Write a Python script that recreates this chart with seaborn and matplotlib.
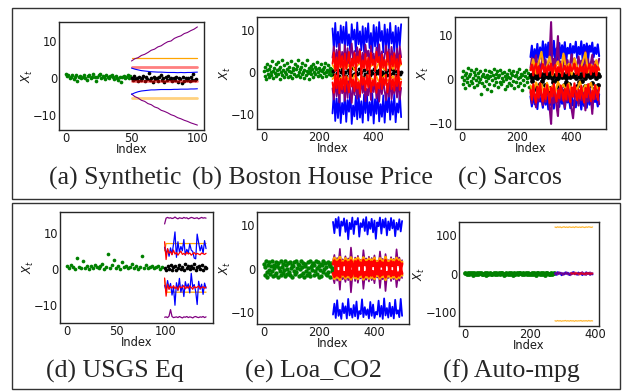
import numpy as np
import matplotlib
matplotlib.use("Agg")
import matplotlib.pyplot as plt
from matplotlib.patches import Rectangle
import seaborn as sns

# ---------------- (a) Synthetic ----------------
green_a = [1.2, 0.6, 0.9, 0.2, 0.5, 0.8, -0.1, 0.4, 0.9, -0.6, 0.3, 0.7, 0.1, 0.5, 1.0, 0.2, -0.3, 0.6, 0.8, 0.0,
           0.4, 1.1, 0.3, -0.8, 0.5, 0.9, 1.3, 0.2, 0.6, 0.4, -0.2, 0.8, 0.5, 0.1, 0.7, 1.0, 0.3, -0.1, 0.6, 0.2,
           -0.4, 0.5, -0.9, 0.3, 0.7, 0.1, 0.4, 0.8, 0.2, 0.6]
black_a = [0.2, -0.5, 0.6, -0.2, 0.1, -0.8, 0.4, -0.3, 0.0, 0.7, -0.6, 0.3, -0.1, 1.5, -0.4, 0.2, -0.9, 0.5, -0.2, 0.1,
           -0.7, 0.4, 0.9, -0.3, 0.0, -1.0, 0.3, -0.5, 0.6, -0.1, 0.2, -0.6, 0.0, -0.4, 0.5, -0.9, 0.1, -0.2, -1.3, 0.4,
           -0.6, 0.0, -0.3, 0.2, -0.8, 0.3, -0.4, 1.2, -0.5, -0.1]
purple_up_a = [4.7, 5.3, 5.6, 6.2, 6.5, 7.0, 7.6, 7.9, 8.5, 8.8, 9.4, 9.9, 10.1, 10.8, 11.2, 11.5, 12.1, 12.4, 12.9, 13.3, 13.9]
purple_lo_a = [-4.2, -4.9, -5.3, -5.9, -6.2, -6.8, -7.1, -7.7, -8.0, -8.6, -8.9, -9.3, -9.8, -10.1, -10.6, -10.9, -11.3,
               -11.6, -12.0, -12.3, -12.6]
blue_up_a = [2.8, 2.5, 2.3, 2.1, 2.0, 1.9, 1.8, 1.75, 1.7, 1.7, 1.65, 1.6, 1.6, 1.6, 1.55, 1.6, 1.55, 1.6, 1.6, 1.65, 1.7]
blue_lo_a = [-4.3, -3.9, -3.6, -3.4, -3.3, -3.2, -3.1, -3.1, -3.05, -3.0, -3.0, -3.0, -3.0, -2.95, -2.95, -2.9, -2.9,
             -2.9, -2.85, -2.85, -2.8]
orange_up_a = [5.5, 5.5]
orange_lo_a = [-5.4, -5.4]
red_up_a = [3.2, 3.2]
red_lo_a = [-0.6, -0.6]
span_a = [50, 100]

# ---------------- (b) Boston House Price ----------------
green_b = [0.3, -0.8, 1.2, -1.5, 0.6, 2.1, -0.4, 0.9, -1.1, 1.6, 0.1, -0.6, 2.8, 0.4, -1.3, 1.0, -0.2, 1.9, -0.9, 0.5,
           2.4, -0.3, 0.8, -1.6, 1.3, 0.0, 2.9, -0.7, 0.6, -1.2, 1.7, 0.2, -0.5, 2.2, 0.9, -1.0, 0.3, 1.4, -0.8, 2.6,
           0.1, -1.4, 1.1, 0.5, -0.3, 2.0, -0.9, 0.7, 1.5, -0.6, 2.9, 0.2, -1.1, 0.8, 1.2, -0.4, 2.3, 0.0, -1.3, 0.6,
           1.8, -0.7, 0.4, 2.9, -0.2, 1.0, -1.5, 0.3, 1.6, -0.5, 0.9, 2.1, -1.0, 0.2, 1.3, -0.3, 0.7, 2.5, -0.8, 0.1,
           1.1, -0.6, 0.5, 1.9, -1.2, 0.4, 0.8, -0.2, 1.4, 2.2, -0.9, 0.0, 0.6, 1.7, -0.4, 0.3, 1.0, -0.7, 0.9, 0.2]
blue_up_b = [10.5, 5.2, 11.8, 6.1, 9.7, 4.8, 11.2, 7.0, 10.9, 5.5, 12.0, 6.4, 9.1, 4.6, 11.5, 7.8, 10.2, 5.0, 11.9, 6.7,
             9.8, 5.3, 11.0, 4.9, 10.6, 7.2, 11.7, 5.8, 9.4, 4.7, 11.3, 6.2, 10.8, 5.1, 12.0, 7.5, 9.9, 4.8, 11.4, 6.0,
             10.3, 5.4, 11.8, 6.9, 9.6, 4.9, 11.1, 5.7, 10.7, 6.3, 11.5]
blue_lo_b = [-9.8, -4.5, -11.6, -6.2, -10.9, -4.9, -12.1, -7.3, -10.0, -5.1, -11.8, -6.6, -9.4, -4.3, -12.3, -7.9, -10.5,
             -5.6, -11.2, -4.8, -10.8, -6.9, -12.0, -5.3, -9.7, -4.6, -11.5, -7.1, -10.3, -5.0, -12.2, -6.4, -9.9, -4.4,
             -11.7, -7.6, -10.6, -5.5, -12.0, -6.1, -9.5, -4.7, -11.3, -6.8, -10.1, -5.2, -11.9, -7.4, -9.6, -4.9, -10.7]
purple_up_b = [3.5, 6.2, 1.8, 5.4, 2.6, 6.8, 1.2, 4.9, 3.0, 6.5, 2.1, 5.8, 1.5, 4.3, 6.9, 2.8, 5.1, 1.7, 6.0, 3.3, 5.6,
               1.4, 4.7, 2.4, 6.6, 3.8, 5.2, 1.9, 6.3, 2.7, 4.5, 1.3, 5.9, 3.1, 6.7, 2.2, 5.0, 1.6, 4.1, 6.4, 2.5, 5.5,
               1.8, 6.1, 3.4, 4.8, 2.0, 5.7, 1.5, 6.2, 3.6]
purple_lo_b = [-3.8, -6.5, -1.6, -5.7, -2.9, -7.2, -1.3, -5.0, -3.3, -6.8, -2.0, -6.1, -1.4, -4.6, -7.3, -2.6, -5.4, -1.9,
               -6.3, -3.5, -5.9, -1.2, -4.9, -2.3, -6.9, -3.9, -5.5, -1.7, -6.6, -2.8, -4.7, -1.5, -6.2, -3.2, -7.0, -2.4,
               -5.2, -1.8, -4.4, -6.7, -2.7, -5.8, -1.6, -6.4, -3.6, -5.1, -2.1, -6.0, -1.4, -6.5, -3.7]
orange_up_b = [1.8, 0.6, 2.3, 1.1, 2.6, 0.8, 1.9, 2.4, 0.5, 1.6, 2.2, 1.0, 2.7, 0.7, 1.5, 2.0, 0.9, 2.5, 1.3, 0.6, 2.1,
               1.7, 0.8, 2.4, 1.2, 1.9]
orange_lo_b = [-1.6, -0.7, -2.1, -1.2, -2.5, -0.9, -1.8, -2.2, -0.6, -1.4, -2.3, -1.1, -2.6, -0.8, -1.3, -1.9, -1.0,
               -2.4, -1.5, -0.7, -2.0, -1.6, -0.9, -2.2, -1.1, -1.7]
red_up_b = [2.1, 4.8, 0.3, 3.6, -0.5, 5.0, 1.2, 3.9, -0.2, 4.5, 0.8, 2.7, 4.9, -0.4, 3.3, 1.5, 4.6, 0.1, 3.8, 2.2, 5.1,
            -0.3, 2.9, 1.0, 4.4, 0.5, 3.5, -0.1, 4.7, 1.8, 3.1, 0.2, 4.9, 2.4, 3.7, -0.6, 4.2, 1.1, 3.0, 0.4, 4.8, 2.6,
            -0.2, 3.9, 1.4, 4.5, 0.6, 3.2, -0.3, 4.1, 2.0]
red_lo_b = [-2.4, -4.9, -0.4, -3.8, 0.3, -5.0, -1.5, -4.1, 0.1, -4.6, -0.9, -2.9, -4.8, 0.5, -3.4, -1.7, -4.5, -0.2,
            -3.9, -2.3, -5.1, 0.2, -3.0, -1.2, -4.3, -0.6, -3.6, 0.0, -4.7, -1.9, -3.2, -0.3, -4.9, -2.5, -3.8, 0.6,
            -4.0, -1.3, -3.1, -0.5, -4.8, -2.7, 0.1, -4.0, -1.6, -4.4, -0.7, -3.3, 0.4, -4.2, -2.2]
black_b = [0.3, -0.6, 0.9, -0.2, 0.5, -0.9, 0.1, 0.7, -0.4, 0.2, -0.8, 0.6, -0.1, 0.4, -0.7, 1.0, -0.3, 0.2, -0.5, 0.8,
           -0.2, 0.1, -1.0, 0.5, -0.3, 0.7, 0.0, -0.6, 0.4, -0.2, 0.9, -0.5, 0.3, -0.1, 0.6, -0.8, 0.2, -0.4, 0.7, 0.1,
           -0.7, 0.5, -0.3, 0.8, -0.1, 0.3, -0.6, 0.4, 0.0, -0.5, 0.2]

# ---------------- (c) Sarcos ----------------
green_c = [0.5, -1.2, 1.8, -0.3, 0.9, -2.0, 1.3, 0.2, -0.8, 2.4, -1.5, 0.6, 1.1, -0.4, 2.1, -1.0, 0.3, 1.6, -1.8, 0.8,
           -0.2, 2.3, -1.3, 0.4, 1.4, -0.7, 0.0, 1.9, -3.5, 0.7, -0.9, 1.2, -1.6, 0.5, 2.0, -0.5, 1.0, -2.2, 0.3, 1.7,
           -1.1, 0.6, -2.8, 1.5, -0.3, 0.9, 2.2, -1.4, 0.1, 1.2, -0.8, 1.8, -1.9, 0.4, 0.9, -0.6, 2.0, -1.2, 0.2, 1.3,
           -0.4, 1.6, -2.4, 0.7, -0.1, 1.1, -1.7, 0.5, 2.1, -0.9, 0.3, 1.4, -1.3, 0.8, -0.5, 1.9, -2.0, 0.6, 1.0, -0.7,
           1.5, -1.6, 0.2, 2.3, -1.0, 0.4, 1.2, -2.6, 0.9, -0.3, 1.6, -1.4, 0.7, 2.0, -0.8, 0.1, 1.3, -1.8, 0.5, 1.0]
blue_up_c = [5.0, 7.6, 3.4, 6.8, 4.2, 8.0, 3.8, 7.2, 4.6, 8.6, 3.5, 7.9, 4.9, 8.3, 3.9, 7.4, 5.2, 8.7, 4.1, 7.0, 3.6,
             8.2, 4.7, 7.7, 5.5, 8.4, 4.0, 7.1, 5.8, 8.0, 4.4, 7.5, 6.0, 8.5, 4.8, 7.3, 5.6, 8.6, 4.3, 7.8, 5.9, 8.1,
             4.5, 7.6, 6.2, 8.3, 5.0, 7.2, 5.7, 7.9, 5.2]
blue_lo_c = [-4.0, -6.3, -3.2, -5.8, -3.6, -6.9, -3.0, -5.2, -4.4, -6.6, -3.3, -5.9, -4.1, -7.0, -3.5, -6.0, -4.7, -6.8,
             -3.1, -5.5, -4.2, -6.4, -3.4, -5.7, -4.6, -6.9, -3.8, -5.4, -4.3, -6.7, -3.2, -6.1, -4.9, -6.5, -3.6, -5.6,
             -4.5, -7.0, -3.9, -6.2, -4.8, -6.6, -3.3, -5.9, -4.0, -6.8, -3.7, -5.3, -4.4, -6.3, -3.5]
purple_up_c = [2.5, 4.8, 1.6, 3.9, 5.4, 2.2, 4.1, 1.8, 3.5, 5.0, 2.9, 4.4, 1.5, 3.2, 6.0, 13.0, 2.4, 4.6, 3.0, 5.2, 9.8,
               2.0, 4.0, 1.7, 3.6, 5.3, 2.6, 4.3, 1.9, 3.8, 5.6, 2.3, 4.7, 1.6, 3.4, 5.1, 2.8, 4.2, 1.8, 3.3, 6.2, 2.1,
               4.5, 1.5, 3.7, 5.5, 2.5, 4.0, 1.9, 3.1, 4.6]
purple_lo_c = [-3.0, -5.6, -1.8, -4.3, -6.5, -2.4, -5.1, -2.0, -4.0, -6.0, -3.2, -5.3, -1.7, -3.8, -6.8, -10.3, -2.6,
               -5.5, -3.4, -6.3, -8.5, -2.2, -4.8, -1.9, -4.2, -6.6, -2.9, -5.0, -2.1, -4.4, -7.0, -9.0, -5.4, -1.8, -3.9,
               -6.1, -3.1, -4.9, -2.0, -3.6, -7.2, -2.3, -5.2, -1.7, -4.1, -8.0, -2.7, -4.6, -2.1, -3.5, -5.8]
orange_up_c = [2.0, 4.5, 1.2, 3.8, 6.2, 1.6, 3.0, 5.1, 0.8, 2.7, 4.0, 1.4, 5.8, 2.2, 3.5, 1.0, 4.7, 2.6, 1.8, 3.9, 6.0,
               1.5, 3.2, 2.4, 4.3, 1.9]
orange_lo_c = [-1.5, -3.0, -0.8, -2.2, -1.2, -3.4, -0.9, -2.6, -1.6, -3.1, -0.7, -2.0, -1.3, -2.8, -1.0, -3.3, -1.8,
               -2.4, -0.6, -2.9, -1.4, -2.1, -0.9, -3.2, -1.7, -2.5]
red_up_c = [2.0, 3.3, 0.8, 2.6, 3.5, 1.2, 2.9, 0.5, 2.3, 3.4, 1.5, 2.8, 0.9, 3.1, 1.9, 3.5, 1.0, 2.5, 3.2, 0.7, 2.7, 1.6,
            3.4, 0.6, 2.2, 3.0, 1.3, 2.9, 0.8, 3.3, 1.8, 2.4, 3.5, 1.1, 2.6, 0.9, 3.1, 1.7, 2.8, 0.5, 3.2, 1.4, 2.5, 3.4,
            1.0, 2.9, 1.6, 3.3, 0.8, 2.7, 2.1]
red_lo_c = [-2.5, -4.8, -1.2, -3.9, -5.4, -1.8, -4.3, -1.0, -3.5, -5.1, -2.2, -4.6, -1.4, -3.2, -5.5, -2.0, -4.0, -1.1,
            -3.7, -5.2, -2.6, -4.4, -1.5, -3.0, -5.0, -2.3, -4.7, -1.3, -3.6, -5.3, -1.9, -4.1, -1.0, -3.3, -4.9, -2.4,
            -4.5, -1.6, -3.8, -5.4, -2.1, -4.2, -1.2, -3.4, -5.1, -2.7, -4.6, -1.4, -3.1, -4.8, -2.0]
black_up_c = [0.8, 0.3, 1.2, 0.5, 1.0, 0.1, 1.4, 0.6, 0.9, 0.2, 1.3, 0.7, 1.1, 0.4, 0.8, 1.5, 0.3, 1.0, 0.6, 1.2, 0.2,
              0.9, 1.4, 0.5, 1.1, 0.7, 0.3, 1.3, 0.8, 0.4, 1.2, 0.6, 1.0, 0.2, 1.4, 0.9, 0.5, 1.1, 0.7, 1.3, 0.3, 0.8,
              1.0, 0.4, 1.2, 0.6, 1.5, 0.9, 0.2, 1.1, 0.7]
black_lo_c = [-0.5, -1.8, -2.5, -1.2, -0.4, -1.5, -2.8, -2.0, -0.8, -0.3, -1.9, -2.6, -1.4, -0.6, -1.1, -2.3, -2.9, -1.7,
              -0.7, -0.5, -1.6, -2.4, -1.3, -0.9, -2.1, -1.5]
span_black_lo_c = [255, 495]

# ---------------- (d) USGS Eq ----------------
green_d = [0.8, 0.3, 1.0, 0.5, 0.1, 2.9, 0.6, 0.2, 2.3, 0.4, 0.9, 0.0, 0.7, 0.3, 1.1, 0.5, 0.2, 0.8, 1.4, 0.1, 0.6, 4.0,
           0.3, 1.2, 2.6, 0.4, 0.8, 0.1, 1.9, 0.5, 0.9, 0.2, 0.6, 1.3, 0.3, 0.7, 0.0, 0.5, 3.7, 0.4, 1.0, 0.2, 0.6, 0.8,
           0.3, 0.5, 0.9, 0.1, 0.6]
purple_up_d = [12.4, 14.0, 14.2, 14.0, 14.1, 13.9, 14.0, 14.3, 14.0, 13.8, 14.1, 14.0, 13.9, 14.2, 14.0, 14.1, 13.8,
               14.0, 14.2, 14.1, 13.9, 14.0, 14.1, 13.8, 14.0, 14.2, 14.0, 14.1, 14.0]
purple_lo_d = [-13.3, -13.2, -13.4, -13.0, -11.2, -13.1, -13.4, -13.3, -13.2, -13.4, -13.1, -13.3, -13.5, -13.2, -13.3,
               -13.1, -13.4, -13.2, -13.3, -13.5, -13.2, -13.1, -13.3, -13.4, -13.2, -13.3, -13.1, -13.4, -13.2]
orange_up_d = [5.0, 7.0, 7.0, 7.0, 7.0, 7.0, 7.0, 7.0, 7.0, 7.0, 7.0, 7.0, 7.0, 7.0, 7.0, 7.0, 7.0, 7.0, 7.0, 7.0, 7.0,
               7.0, 7.0, 7.0, 7.0, 7.0, 7.0, 7.0, 7.0]
orange_lo_d = [-3.0, -6.4, -6.4, -6.4, -6.4, -6.4, -6.4, -6.4, -6.4, -6.4, -6.4, -6.4, -6.4, -6.4, -6.4, -6.4, -6.4,
               -6.4, -6.4, -6.4, -6.4, -6.4, -6.4, -6.4, -6.4, -6.4, -6.4, -6.4, -6.4]
blue_up_d = [6.0, 4.2, 5.5, 3.5, 5.8, 4.0, 6.8, 10.2, 3.2, 7.5, 4.6, 6.2, 5.0, 8.1, 3.8, 5.4, 4.4, 6.9, 5.2, 4.8, 3.0,
             2.8, 9.6, 7.2, 5.0, 6.5, 4.3, 7.8, 5.6]
blue_lo_d = [-4.5, -6.0, -3.2, -5.5, -4.0, -7.2, -5.0, -10.0, -3.8, -5.9, -2.6, -6.4, -4.4, -7.6, -3.5, -5.2, -4.1,
             -6.6, -1.2, -5.0, -4.3, -6.2, -9.8, -3.4, -5.6, -4.2, -7.0, -3.9, -5.3]
red_up_d = [7.5, 2.6, 5.6, 4.3, 4.8, 3.9, 5.2, 4.1, 4.5, 3.8, 4.4, 4.9, 4.0, 4.3, 3.9, 4.6, 4.1, 4.4, 3.8, 4.2, 4.5, 4.0,
            4.3, 4.1, 3.9, 4.4, 4.2, 4.0, 4.3]
red_lo_d = [-2.5, -7.5, -4.2, -5.6, -4.8, -5.3, -4.6, -5.4, -4.9, -5.8, -4.7, -5.2, -5.0, -4.6, -5.5, -4.9, -5.3, -4.7,
            -5.1, -5.6, -4.8, -5.2, -5.0, -4.7, -5.4, -5.1, -4.9, -5.3, -5.0]
black_d = [0.2, -0.3, 0.8, 0.1, 1.2, -0.2, 0.5, 0.9, -0.4, 0.3, 1.1, 0.0, 0.6, -0.3, 1.4, 0.2, 0.7, -0.1, 0.9, 0.4, 1.3,
           -0.2, 0.5, 0.8, 0.1, 1.0, -0.3, 0.6, 0.2]

# ---------------- (e) Loa_CO2 ----------------
green_e = [1.2, -1.5, 0.4, 1.7, -0.8, -1.9, 0.9, -0.2, 1.5, -1.1, 0.6, 1.8, -0.5, -1.6, 1.0, 0.1, -1.3, 1.6, -0.9, 0.7,
           -1.8, 1.3, 0.2, -0.6, 1.7, -1.4, 0.5, 1.1, -1.0, -0.3, 1.9, -1.7, 0.8, 0.0, -1.2, 1.4, -0.7, 1.6, -1.5, 0.3,
           1.0, -1.9, 0.6, 1.5, -0.4, -1.1, 1.8, -0.8, 0.2, 1.2, -1.6, 0.9, -0.1, 1.7, -1.3, 0.4, -0.9, 1.4, -1.8, 0.7,
           1.1, -0.5, -1.4, 1.6, 0.3, -1.0, 1.9, -1.7, 0.5, 0.8, -0.2, 1.3, -1.5, 1.0, -0.6, 1.7, -1.2, 0.1, 1.5, -1.9,
           0.6, -0.3, 1.2, -1.6, 0.9, 1.8, -0.8, 0.0, 1.4, -1.1, 0.4, -1.4, 1.6, -0.7, 1.1, -1.8, 0.7, 1.3, -0.4, 0.2]
blue_up_e = [10.8, 8.2, 11.5, 9.4, 11.9, 7.6, 10.9, 9.9, 11.6, 8.5, 11.2, 6.8, 10.6, 9.1, 11.8, 8.0, 11.0, 10.2, 11.7,
             7.4, 10.5, 9.6, 11.4, 8.7, 11.9, 7.9, 10.8, 9.2, 11.5, 8.4, 11.1, 6.9, 10.7, 9.8, 11.8, 8.1, 11.3, 9.5,
             11.6, 7.7, 10.9, 8.9, 11.7, 9.3, 11.2, 7.5, 10.6, 9.0, 11.4, 8.6, 11.0]
blue_lo_e = [-10.5, -8.0, -11.3, -7.2, -10.8, -9.4, -11.5, -7.9, -10.2, -8.6, -11.4, -6.9, -10.7, -9.1, -11.2, -8.3,
             -10.9, -7.5, -11.5, -9.7, -10.4, -7.0, -11.1, -8.8, -10.6, -9.3, -11.4, -7.6, -10.8, -8.2, -11.3, -9.9,
             -10.5, -7.3, -11.0, -8.5, -11.5, -6.8, -10.7, -9.0, -11.2, -7.8, -10.9, -8.7, -11.4, -7.1, -10.3, -9.5,
             -11.1, -6.9, -10.8]
purple_up_e = [1.8, 3.2, 0.6, 2.5, 1.2, 4.6, 0.4, 2.2, 1.5, 2.9, 0.9, 2.4, 0.5, 4.9, 1.7, 0.8, 2.6, 0.4, 3.0, 1.3, 2.1,
               0.6, 4.3, 1.6, 2.4, 0.8, 2.8, 0.3, 2.5, 1.4, 3.1, 0.9, 1.9, 0.7, 4.0, 1.1, 2.3, 0.4, 3.4, 1.5, 2.0, 0.7,
               2.7, 1.2, 2.3, 0.6, 4.5, 1.6, 2.6, 1.0, 2.0]
purple_lo_e = [-2.0, -3.3, -0.7, -2.7, -1.2, -4.8, -0.4, -2.4, -1.6, -3.0, -0.9, -2.6, -0.6, -5.4, -1.8, -0.8, -2.8,
               -0.5, -3.2, -1.4, -2.2, -0.7, -4.6, -1.7, -2.5, -0.9, -2.9, -0.4, -2.6, -1.5, -3.3, -1.0, -2.0, -0.7,
               -4.4, -1.2, -2.4, -0.5, -5.1, -1.6, -2.1, -0.8, -2.8, -1.3, -2.4, -0.6, -4.2, -1.7, -2.7, -1.1, -2.1]
orange_up_e = [1.5, 2.5, 0.6, 2.1, 1.0, 2.7, 0.3, 1.8, 1.2, 2.4, 0.7, 2.0, 0.4, 2.6, 1.4, 0.8, 2.2, 0.5, 2.5, 1.1, 1.9,
               0.6, 2.6, 1.3, 2.0, 0.7, 2.3, 0.2, 2.1, 1.0, 2.5, 0.8, 1.7, 0.5, 2.4, 0.9, 1.9, 0.4, 2.7, 1.2, 1.8, 0.6,
               2.2, 1.0, 2.0, 0.5, 2.5, 1.3, 2.1, 0.8, 1.6]
orange_lo_e = [-1.3, -2.3, -0.5, -2.0, -0.9, -2.5, -0.4, -1.7, -1.1, -2.2, -0.6, -1.9, -0.3, -2.4, -1.2, -0.7, -2.1,
               -0.4, -2.3, -1.0, -1.8, -0.5, -2.4, -1.2, -1.9, -0.6, -2.2, -0.3, -2.0, -0.9, -2.3, -0.7, -1.6, -0.4,
               -2.2, -0.8, -1.8, -0.5, -2.5, -1.1, -1.7, -0.5, -2.1, -0.9, -1.9, -0.4, -2.3, -1.2, -2.0, -0.7, -1.5]
red_up_e = [1.1, 1.9, -0.4, 1.6, 0.7, 2.0, -0.6, 1.4, 0.9, 1.8, -0.3, 1.5, -0.7, 1.9, 1.0, -0.2, 1.7, -0.4, 1.9, 0.8,
            1.4, -0.4, 2.0, 0.9, 1.5, -0.2, 1.8, -0.7, 1.6, 0.7, 1.9, -0.3, 1.3, -0.6, 1.8, 0.6, 1.4, -0.6, 2.0, 0.9,
            1.3, -0.4, 1.7, 0.7, 1.5, -0.6, 1.9, 1.0, 1.6, -0.3, 1.2]
red_lo_e = [-1.0, -1.8, 0.4, -1.5, -0.6, -1.9, 0.6, -1.3, -0.8, -1.7, 0.2, -1.4, 0.6, -1.9, -0.9, 0.3, -1.6, 0.4, -1.8,
            -0.7, -1.3, 0.4, -1.9, -0.8, -1.4, 0.3, -1.7, 0.6, -1.5, -0.6, -1.8, 0.2, -1.2, 0.6, -1.7, -0.5, -1.3, 0.4,
            -1.9, -0.8, -1.2, 0.4, -1.6, -0.6, -1.4, 0.6, -1.8, -0.9, -1.5, 0.2, -1.1]

# ---------------- (f) Auto-mpg ----------------
green_f = [1.2, -0.8, 2.1, -1.5, 0.4, 2.6, -2.2, 0.9, -0.3, 1.7, -1.9, 0.6, 2.4, -1.1, 0.2, 1.5, -2.6, 0.8, -0.5, 2.0,
           -1.3, 0.3, 1.9, -2.0, 1.0, -0.7, 2.7, -1.6, 0.5, 1.3, -2.4, 0.1, 1.8, -0.9, 2.3, -1.2, 0.7, -2.8, 1.4, 0.0,
           2.2, -1.7, 0.6, 1.1, -0.4, 2.5, -2.1, 0.9, -0.6, 1.6, -1.4, 0.3, 2.8, -1.0, 0.8, -2.3, 1.2, 0.4, -1.8, 2.0,
           -0.2, 1.5, -2.5, 0.7, 1.9, -1.1, 0.2, 2.4, -0.8, 1.3]
blue_f = [2.0, -3.5, 4.1, -1.2, 3.0, -4.4, 1.5, -2.6, 3.8, -0.9, 2.7, -3.9, 1.1, -2.0, 4.5, -1.6, 0.8, -3.2, 3.4, -0.5,
          2.2, -4.1, 1.7, -2.8, 3.9, -1.0, 2.5, -3.6, 1.3, -2.3]
purple_f = [-1.5, 3.2, -2.8, 4.0, -0.7, 2.4, -3.9, 1.8, -1.1, 3.6, -2.4, 0.9, -4.2, 2.9, -0.3, 3.8, -1.9, 1.4, -3.3,
            2.1, -0.8, 4.3, -2.6, 1.0, -3.7, 2.6, -1.2, 3.5, -2.1, 1.6]
red_f = [2.2, -1.0, 1.6, -2.2, 3.0, -0.4, 1.3, -2.7, 2.4, -1.5, 0.7, -2.0, 2.9, -0.9, 1.8, -2.4, 1.2, -0.3]
orange_up_f = [120.5, 119.2, 121.0, 119.8, 120.9, 119.0, 120.3, 121.2, 119.5, 120.7, 119.3, 121.1, 120.0, 119.6, 120.8,
               119.1, 121.3, 120.2, 119.7, 120.6, 119.4, 121.0, 120.1, 119.2, 120.9, 119.8, 121.2, 120.4, 119.5, 120.7]
orange_lo_f = [-121.8, -122.9, -121.2, -122.5, -121.5, -123.0, -121.9, -122.2, -121.1, -122.7, -121.6, -122.8, -121.3,
               -122.4, -121.7, -123.1, -121.4, -122.6, -121.9, -122.1, -121.2, -122.9, -121.8, -122.3, -121.5, -122.8,
               -121.1, -122.5, -121.7, -122.2]
span_red_f = [325, 392]

# index ranges of train / test parts per dataset
ranges = {
    "a": ((0, 49), (50, 99)),
    "b": ((0, 248), (250, 500)),
    "c": ((0, 248), (250, 500)),
    "d": ((0, 96), (99, 141)),
    "e": ((0, 248), (250, 500)),
    "f": ((0, 272), (276, 392)),
}

xticks_ab = [0, 50, 100]
xticks_big = [0, 200, 400]
yticks_small = [-10, 0, 10]
yticks_f = [-100, 0, 100]

captions = ["(a) Synthetic", "(b) Boston House Price", "(c) Sarcos",
            "(d) USGS Eq", "(e) Loa_CO2", "(f) Auto-mpg"]

W, H = 623, 391
sns.set_style("white")
plt.rcParams["font.family"] = ["DejaVu Sans"]
plt.rcParams["mathtext.fontset"] = "dejavusans"

fig = plt.figure(figsize=(W / 100, H / 100), dpi=100)


def px_axes(x0, y0, x1, y1):
    return fig.add_axes([x0 / W, 1 - y1 / H, (x1 - x0) / W, (y1 - y0) / H])


def xs(rng, vals):
    return np.linspace(rng[0], rng[1], len(vals))


def line(ax, rng, vals, color, lw=1.1, alpha=1.0):
    sns.lineplot(x=xs(rng, vals), y=vals, color=color, linewidth=lw, alpha=alpha,
                 estimator=None, sort=False, ax=ax)


def dots(ax, rng, vals, color, s=6):
    sns.scatterplot(x=xs(rng, vals), y=vals, color=color, s=s, linewidth=0, ax=ax)


def style(ax, xticks, yticks):
    ax.set_xticks(xticks)
    ax.set_yticks(yticks)
    ax.tick_params(labelsize=8.3, pad=1.2, length=0, colors="0.1")
    for sp in ax.spines.values():
        sp.set_visible(True)
        sp.set_color("0.15")
        sp.set_linewidth(1.0)
    ax.set_xlabel("Index", fontsize=8.3, labelpad=-1, color="0.1")
    ax.set_ylabel("$X_t$", fontsize=8.3, labelpad=-1, color="0.1")


# (a)
ax = px_axes(59, 22, 204, 130)
tr, te = ranges["a"]
dots(ax, tr, green_a, "green", s=7)
line(ax, span_a, orange_up_a, "orange", lw=0.9)
line(ax, span_a, orange_lo_a, "orange", lw=2.0, alpha=0.5)
line(ax, span_a, red_up_a, "red", lw=2.0, alpha=0.5)
line(ax, span_a, red_lo_a, "red", lw=2.0, alpha=0.5)
line(ax, span_a, purple_up_a, "purple", lw=0.8)
line(ax, span_a, purple_lo_a, "purple", lw=0.8)
line(ax, span_a, blue_up_a, "blue", lw=0.8)
line(ax, span_a, blue_lo_a, "blue", lw=0.8)
dots(ax, te, black_a, "black", s=7)
style(ax, xticks_ab, yticks_small)

# (b)
ax = px_axes(257, 17, 408, 129)
tr, te = ranges["b"]
dots(ax, tr, green_b, "green", s=7)
for v, c in [(blue_up_b, "blue"), (blue_lo_b, "blue"), (purple_up_b, "purple"), (purple_lo_b, "purple"),
             (orange_up_b, "orange"), (orange_lo_b, "orange"), (red_up_b, "red"), (red_lo_b, "red")]:
    line(ax, te, v, c, lw=1.3)
dots(ax, te, black_b, "black", s=8)
style(ax, xticks_big, yticks_small)

# (c)
ax = px_axes(455, 17, 606, 129)
tr, te = ranges["c"]
dots(ax, tr, green_c, "green", s=7)
for v, c in [(blue_up_c, "blue"), (blue_lo_c, "blue"), (purple_up_c, "purple"), (purple_lo_c, "purple"),
             (orange_up_c, "orange"), (orange_lo_c, "orange"), (red_up_c, "red"), (red_lo_c, "red")]:
    line(ax, te, v, c, lw=1.5)
dots(ax, te, black_up_c, "black", s=12)
dots(ax, span_black_lo_c, black_lo_c, "black", s=12)
style(ax, xticks_big, yticks_small)

# (d)
ax = px_axes(60, 212, 213, 323)
tr, te = ranges["d"]
dots(ax, tr, green_d, "green", s=7)
for v, c in [(purple_up_d, "purple"), (purple_lo_d, "purple"), (orange_up_d, "orange"), (orange_lo_d, "orange"),
             (blue_up_d, "blue"), (blue_lo_d, "blue"), (red_up_d, "red"), (red_lo_d, "red")]:
    line(ax, te, v, c, lw=0.9)
dots(ax, te, black_d, "black", s=7)
style(ax, xticks_ab, yticks_small)

# (e)
ax = px_axes(257, 212, 409, 324)
tr, te = ranges["e"]
dots(ax, tr, green_e, "green", s=10)
for v, c, w in [(blue_up_e, "blue", 1.3), (blue_lo_e, "blue", 1.3), (purple_up_e, "purple", 1.2),
                (purple_lo_e, "purple", 1.2), (orange_up_e, "orange", 2.0), (orange_lo_e, "orange", 2.0),
                (red_up_e, "red", 2.0), (red_lo_e, "red", 2.0)]:
    line(ax, te, v, c, lw=w)
style(ax, xticks_big, yticks_small)

# (f)
ax = px_axes(459, 222, 599, 326)
tr, te = ranges["f"]
dots(ax, tr, green_f, "green", s=12)
line(ax, te, blue_f, "blue", lw=1.2)
line(ax, te, purple_f, "purple", lw=1.3, alpha=0.85)
line(ax, span_red_f, red_f, "red", lw=1.2, alpha=0.7)
line(ax, te, orange_up_f, "orange", lw=0.9, alpha=0.8)
line(ax, te, orange_lo_f, "orange", lw=0.9, alpha=0.8)
style(ax, xticks_big, yticks_f)

# boxes around the two rows
for y0, y1 in [(8, 199), (203, 389)]:
    fig.add_artist(Rectangle((12 / W, 1 - y1 / H), 608 / W, (y1 - y0) / H, transform=fig.transFigure,
                             fill=False, edgecolor="0.2", linewidth=1.0))

cap_pos = [(115, 185), (312, 185), (510, 185), (115, 378), (313, 378), (511, 378)]
for txt, (cx, cy) in zip(captions, cap_pos):
    fig.text(cx / W, 1 - cy / H, txt, ha="center", va="baseline", fontsize=18.5,
             family=["Liberation Serif", "DejaVu Serif"])

fig.savefig("out.png", dpi=100)
